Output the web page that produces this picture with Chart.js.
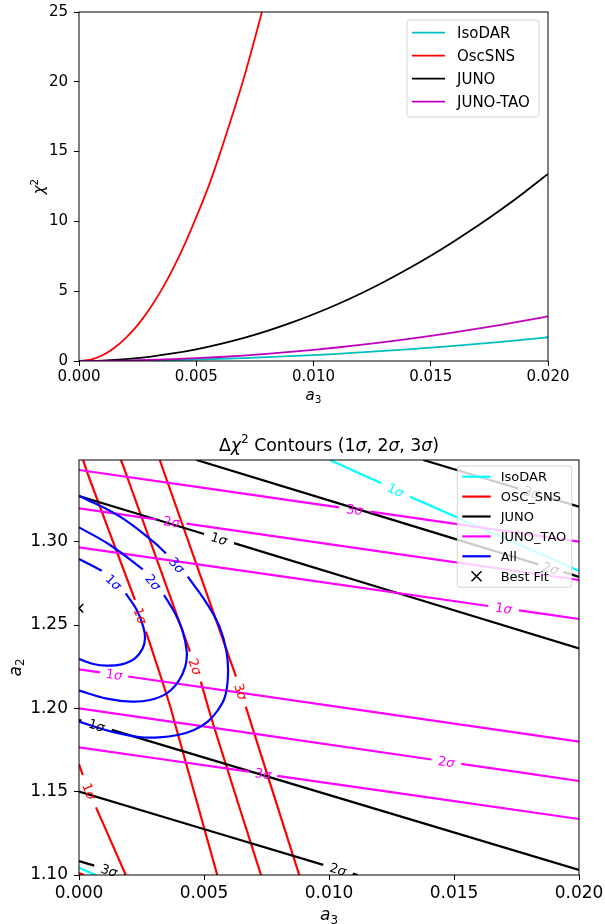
<!DOCTYPE html>
<html>
<head>
<meta charset="utf-8">
<title>a3 sensitivity</title>
<script src="https://cdn.jsdelivr.net/npm/chart.js@4.4.1/dist/chart.umd.min.js"></script>
<style>
  html, body { margin: 0; padding: 0; background: #fff; }
  #page { position: relative; width: 605px; height: 924px; }
  #chi2 { position: absolute; left: 0; top: 0; }
  #contours { position: absolute; left: 0; top: 415px; }
</style>
</head>
<body>
<div id="page">
  <canvas id="chi2" width="605" height="415"></canvas>
  <canvas id="contours" width="605" height="509"></canvas>
</div>
<script>
const FONT = "'DejaVu Sans', sans-serif";

// ---- chi^2 scan over a3 ----
const a3Scan = [0, 0.001, 0.002, 0.003, 0.004, 0.005, 0.006, 0.007, 0.008, 0.009, 0.010,
                0.011, 0.012, 0.013, 0.014, 0.015, 0.016, 0.017, 0.018, 0.019, 0.020];
const chi2IsoDAR = [0, 0.004, 0.017, 0.038, 0.068, 0.106, 0.153, 0.208, 0.272, 0.344, 0.425,
                    0.514, 0.612, 0.718, 0.833, 0.956, 1.088, 1.228, 1.377, 1.534, 1.70];
const chi2JUNO = [0, 0.03, 0.13, 0.30, 0.54, 0.84, 1.21, 1.64, 2.14, 2.71, 3.35,
                  4.05, 4.82, 5.66, 6.57, 7.54, 8.58, 9.68, 10.85, 12.09, 13.40];
const chi2JUNOTAO = [0, 0.008, 0.032, 0.072, 0.128, 0.20, 0.288, 0.392, 0.512, 0.648, 0.80,
                     0.968, 1.152, 1.352, 1.568, 1.80, 2.048, 2.312, 2.592, 2.888, 3.20];
// OscSNS climbs out of the frame early, so it gets a finer grid
const a3ScanOsc = [0, 0.0005, 0.001, 0.0015, 0.002, 0.0025, 0.003, 0.0035, 0.004,
                   0.0045, 0.005, 0.0055, 0.006, 0.0065, 0.007, 0.0075, 0.008];
const chi2OscSNS = [0, 0.10, 0.41, 0.93, 1.65, 2.57, 3.70, 5.04, 6.58,
                    8.33, 10.3, 12.4, 14.8, 17.4, 20.1, 23.1, 26.3];

const chi2Ticks = [0, 5, 10, 15, 20, 25];
const a3Ticks = [0, 0.005, 0.010, 0.015, 0.020];
const a2Ticks = [1.10, 1.15, 1.20, 1.25, 1.30];

// ---- delta chi^2 contours in the (a3, a2) plane ----
// each contour is a polyline of [a3, a2]; a string marks where the inline label cuts it
const isodarContours = [
  [[0.01004, 1.349], [0.0121, 1.335], '1σ', [0.01324, 1.327], [0.020, 1.2825]],
  [[0, 1.1044], [0.0006, 1.1004], [0.00066, 1.10]]
];
const oscSnsContours = [
  [[0.00016, 1.349], [0.00044, 1.337], [0.00224, 1.265], '1σ', [0.00268, 1.246], [0.00357, 1.205], [0.00391, 1.187], [0.00553, 1.10]],
  [[0.00168, 1.349], [0.00197, 1.337], [0.00444, 1.234], '2σ', [0.00487, 1.216], [0.00544, 1.187], [0.00728, 1.10]],
  [[0.00323, 1.349], [0.00351, 1.337], [0.00628, 1.219], '3σ', [0.00667, 1.201], [0.00881, 1.10]],
  [[0, 1.1665], [0.00015, 1.160], '1σ', [0.00068, 1.1406], [0.00187, 1.10]],
  [[0, 1.1012], [0.0002, 1.10]]
];
const junoContours = [
  [[0, 1.3274], [0.0050, 1.3046], '1σ', [0.0062, 1.2991], [0.020, 1.236]],
  [[0.0047, 1.349], [0.01837, 1.2864], '2σ', [0.01937, 1.2818], [0.020, 1.2789]],
  [[0.01377, 1.349], [0.01757, 1.3319], '3σ', [0.01864, 1.3271], [0.020, 1.321]],
  [[0, 1.193], [0.0001, 1.1926], '1σ', [0.00131, 1.1871], [0.020, 1.103]],
  [[0, 1.150], [0.00977, 1.1061], '2σ', [0.01095, 1.1008], [0.01114, 1.10]],
  [[0, 1.1084], [0.00061, 1.1056], '3σ', [0.0018, 1.1001], [0.00183, 1.10]]
];
const junoTaoContours = [
  [[0, 1.343], [0.0104, 1.3206], '3σ', [0.01165, 1.318], [0.020, 1.300]],
  [[0, 1.320], [0.0031, 1.3133], '2σ', [0.0043, 1.3108], [0.020, 1.277]],
  [[0, 1.2966], [0.01637, 1.2614], '1σ', [0.0176, 1.2588], [0.020, 1.2536]],
  [[0, 1.2234], [0.00084, 1.2216], '1σ', [0.00197, 1.2191], [0.020, 1.180]],
  [[0, 1.200], [0.0141, 1.1693], '2σ', [0.01529, 1.1667], [0.020, 1.1564]],
  [[0, 1.1766], [0.0068, 1.162], '3σ', [0.00793, 1.1595], [0.020, 1.1336]]
];
const allContours = [
  [[0, 1.2896], [0.00091, 1.2826], '1σ', [0.00187, 1.269], [0.00231, 1.259], [0.00257, 1.249], [0.00264, 1.242],
   [0.00255, 1.236], [0.00224, 1.230], [0.00171, 1.2264], [0.00111, 1.2256], [0.00057, 1.2266], [0, 1.2296]],
  [[0, 1.3086], [0.00124, 1.298], [0.00255, 1.2834], '2σ', [0.0034, 1.268], [0.00384, 1.257], [0.00415, 1.246],
   [0.00431, 1.234], [0.00425, 1.225], [0.00397, 1.216], [0.00351, 1.209], [0.00284, 1.205], [0.00211, 1.204],
   [0.00111, 1.2058], [0, 1.2106]],
  [[0, 1.3276], [0.00164, 1.315], [0.00297, 1.300], [0.00348, 1.293], '3σ', [0.00435, 1.279], [0.00511, 1.263],
   [0.00562, 1.249], [0.0059, 1.234], [0.00596, 1.220], [0.00584, 1.207], [0.00556, 1.199], [0.00515, 1.192],
   [0.0046, 1.187], [0.00395, 1.184], [0.0032, 1.1826], [0.0024, 1.1828], [0.00131, 1.186], [0, 1.192]]
];
const bestFit = [[0, 1.26]];

const chi2Series = [
  { name: 'IsoDAR', color: '#00bfbf', a3: a3Scan, chi2: chi2IsoDAR },
  { name: 'OscSNS', color: '#ff0000', a3: a3ScanOsc, chi2: chi2OscSNS },
  { name: 'JUNO', color: '#000000', a3: a3Scan, chi2: chi2JUNO },
  { name: 'JUNO-TAO', color: '#bf00bf', a3: a3Scan, chi2: chi2JUNOTAO }
];
const contourSeries = [
  { name: 'IsoDAR', color: '#00ffff', lines: isodarContours },
  { name: 'OSC_SNS', color: '#ff0000', lines: oscSnsContours },
  { name: 'JUNO', color: '#000000', lines: junoContours },
  { name: 'JUNO_TAO', color: '#ff00ff', lines: junoTaoContours },
  { name: 'All', color: '#0000ff', lines: allContours }
];

// ---- text helpers (mathtext-like: italic symbols, sub/superscripts) ----
function fontFor(kind, size) {
  const px = (kind === 'sub' || kind === 'sup') ? size * 0.7 : size;
  return (kind === 'i' ? 'italic ' : '') + px.toFixed(1) + 'px ' + FONT;
}
function richWidth(ctx, parts, size) {
  let w = 0;
  for (const [t, k] of parts) { ctx.font = fontFor(k, size); w += ctx.measureText(t).width; }
  return w;
}
function drawRich(ctx, parts, cx, baseline, size, color) {
  ctx.fillStyle = color;
  ctx.textAlign = 'left';
  ctx.textBaseline = 'alphabetic';
  let x = cx - richWidth(ctx, parts, size) / 2;
  for (const [t, k] of parts) {
    ctx.font = fontFor(k, size);
    const dy = k === 'sub' ? size * 0.22 : k === 'sup' ? -size * 0.42 : 0;
    ctx.fillText(t, x, baseline + dy);
    x += ctx.measureText(t).width;
  }
}
const sigmaParts = s => [[s.slice(0, -1), 'r'], ['σ', 'i']];

function drawFrame(ctx, a) {
  ctx.save();
  ctx.strokeStyle = '#000';
  ctx.lineWidth = 1;
  ctx.strokeRect(a.left, a.top, a.right - a.left, a.bottom - a.top);
  ctx.restore();
}

function drawLegend(ctx, box, rows, size, lw) {
  ctx.save();
  ctx.beginPath();
  ctx.roundRect(box.x, box.y, box.w, box.h, 3);
  ctx.fillStyle = 'rgba(255,255,255,0.8)';
  ctx.fill();
  ctx.strokeStyle = 'rgba(204,204,204,0.8)';
  ctx.lineWidth = 1;
  ctx.stroke();
  ctx.font = size + 'px ' + FONT;
  ctx.textAlign = 'left';
  ctx.textBaseline = 'middle';
  rows.forEach((r, i) => {
    const cy = box.y + box.first + i * box.step;
    const x0 = box.x + box.l0, x1 = box.x + box.l1;
    ctx.strokeStyle = r.color;
    ctx.beginPath();
    if (r.marker) {
      const mx = (x0 + x1) / 2, h = 5;
      ctx.lineWidth = 1.5;
      ctx.moveTo(mx - h, cy - h); ctx.lineTo(mx + h, cy + h);
      ctx.moveTo(mx - h, cy + h); ctx.lineTo(mx + h, cy - h);
    } else {
      ctx.lineWidth = lw;
      ctx.moveTo(x0, cy); ctx.lineTo(x1, cy);
    }
    ctx.stroke();
    ctx.fillStyle = '#000';
    ctx.fillText(r.name, box.x + box.tx, cy + 1);
  });
  ctx.restore();
}

function axisOpts(ticks, min, max, fmt, size, pad, fit) {
  return {
    type: 'linear', min, max,
    afterBuildTicks: s => { s.ticks = ticks.map(v => ({ value: v })); },
    afterFit: fit,
    ticks: { callback: fmt, font: { family: FONT, size }, color: '#000', padding: pad, autoSkip: false, maxRotation: 0 },
    grid: { drawOnChartArea: false, drawTicks: true, tickLength: 5, tickWidth: 1, color: '#000' },
    border: { display: false }
  };
}

// ---- top panel: chi^2 vs a3 ----
const chi2Decor = {
  id: 'chi2Decor',
  afterDatasetsDraw(chart) {
    const { ctx, chartArea: a } = chart;
    drawFrame(ctx, a);
    drawLegend(ctx, { x: a.right - 141, y: a.top + 8, w: 132, h: 97, first: 12.7, step: 23, l0: 5, l1: 38, tx: 50 },
      chi2Series.map(s => ({ name: s.name, color: s.color })), 15, 1.8);
  },
  afterDraw(chart) {
    const { ctx, chartArea: a } = chart;
    ctx.save();
    drawRich(ctx, [['a', 'i'], ['3', 'sub']], (a.left + a.right) / 2, a.bottom + 39, 15, '#000');
    ctx.translate(39, (a.top + a.bottom) / 2);
    ctx.rotate(-Math.PI / 2);
    drawRich(ctx, [['χ', 'i'], ['2', 'sup']], 0, 5, 15, '#000');
    ctx.restore();
  }
};

new Chart(document.getElementById('chi2'), {
  type: 'scatter',
  data: {
    datasets: chi2Series.map((s, i) => ({
      label: s.name,
      data: s.a3.map((v, j) => ({ x: v, y: s.chi2[j] })),
      showLine: true,
      borderColor: s.color,
      borderWidth: 1.8,
      pointRadius: 0,
      cubicInterpolationMode: 'monotone',
      clip: 0,
      order: -i
    }))
  },
  options: {
    responsive: false,
    animation: false,
    events: [],
    layout: { padding: { left: 0, right: 57, top: 12, bottom: 0 } },
    plugins: { legend: { display: false }, tooltip: { enabled: false } },
    scales: {
      x: axisOpts(a3Ticks, 0, 0.02, v => v.toFixed(3), 15, 2, s => { s.height = 54; s.paddingLeft = 0; s.paddingRight = 0; }),
      y: axisOpts(chi2Ticks, 0, 25, v => String(v), 15, 6, s => { s.width = 79; s.paddingTop = 0; s.paddingBottom = 0; })
    }
  },
  plugins: [chi2Decor]
});

// ---- bottom panel: contours ----
const contourDatasets = [];
contourSeries.forEach((s, si) => s.lines.forEach(line => {
  let seg = [];
  const flush = () => {
    if (seg.length > 1) {
      contourDatasets.push({
        label: s.name, data: seg, showLine: true, borderColor: s.color, borderWidth: 2.2,
        pointRadius: 0, tension: 0.4, clip: 0, order: -si
      });
    }
    seg = [];
  };
  line.forEach(p => { if (typeof p === 'string') flush(); else seg.push({ x: p[0], y: p[1] }); });
  flush();
}));
contourDatasets.push({
  label: 'Best Fit', data: bestFit.map(p => ({ x: p[0], y: p[1] })), showLine: false,
  pointStyle: 'crossRot', pointRadius: 6, pointBorderColor: '#000', pointBorderWidth: 1.5,
  clip: 0, order: -10
});

const contourDecor = {
  id: 'contourDecor',
  afterDatasetsDraw(chart) {
    const { ctx, chartArea: a, scales: { x, y } } = chart;
    // inline labels sit in the gaps left in each contour
    contourSeries.forEach(s => s.lines.forEach(line => line.forEach((p, i) => {
      if (typeof p !== 'string') return;
      const u = line[i - 1], w = line[i + 1];
      const x1 = x.getPixelForValue(u[0]), y1 = y.getPixelForValue(u[1]);
      const x2 = x.getPixelForValue(w[0]), y2 = y.getPixelForValue(w[1]);
      let ang = Math.atan2(y2 - y1, x2 - x1);
      if (ang > Math.PI / 2) ang -= Math.PI;
      if (ang < -Math.PI / 2) ang += Math.PI;
      ctx.save();
      ctx.translate((x1 + x2) / 2, (y1 + y2) / 2);
      ctx.rotate(ang);
      drawRich(ctx, sigmaParts(p), 0, 4.6, 13, s.color);
      ctx.restore();
    })));
    drawFrame(ctx, a);
    const rows = contourSeries.map(s => ({ name: s.name, color: s.color }));
    rows.push({ name: 'Best Fit', color: '#000', marker: true });
    drawLegend(ctx, { x: a.right - 121.7, y: a.top + 6, w: 114.4, h: 121.3, first: 10.7, step: 19.9, l0: 5, l1: 33.4, tx: 43.4 },
      rows, 13, 2.2);
  },
  afterDraw(chart) {
    const { ctx, chartArea: a } = chart;
    const cx = (a.left + a.right) / 2;
    ctx.save();
    drawRich(ctx, [['Δ', 'r'], ['χ', 'i'], ['2', 'sup'], [' Contours (1', 'r'], ['σ', 'i'], [', 2', 'r'], ['σ', 'i'], [', 3', 'r'], ['σ', 'i'], [')', 'r']],
      cx, a.top - 9.5, 17.3, '#000');
    drawRich(ctx, [['a', 'i'], ['3', 'sub']], cx, a.bottom + 45, 17, '#000');
    ctx.translate(15.5, (a.top + a.bottom) / 2);
    ctx.rotate(-Math.PI / 2);
    drawRich(ctx, [['a', 'i'], ['2', 'sub']], 0, 5, 17, '#000');
    ctx.restore();
  }
};

new Chart(document.getElementById('contours'), {
  type: 'scatter',
  data: { datasets: contourDatasets },
  options: {
    responsive: false,
    animation: false,
    events: [],
    layout: { padding: { left: 0, right: 26, top: 45, bottom: 0 } },
    plugins: { legend: { display: false }, tooltip: { enabled: false } },
    scales: {
      x: axisOpts(a3Ticks, 0, 0.02, v => v.toFixed(3), 17, 3, s => { s.height = 49; s.paddingLeft = 0; s.paddingRight = 0; }),
      y: axisOpts(a2Ticks, 1.10, 1.349, v => v.toFixed(2), 17, 6, s => { s.width = 79; s.paddingTop = 0; s.paddingBottom = 0; })
    }
  },
  plugins: [contourDecor]
});
</script>
</body>
</html>
